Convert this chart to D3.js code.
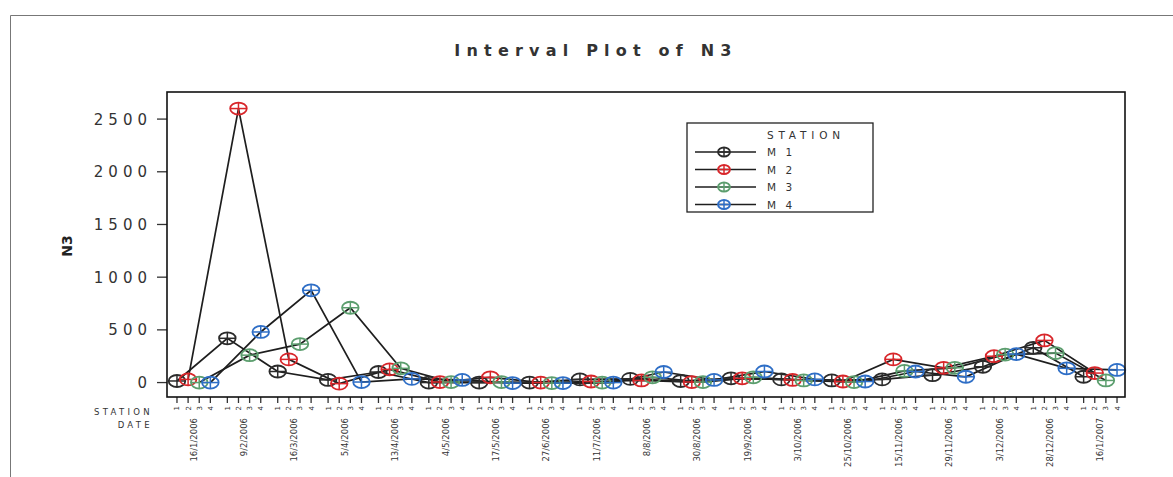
<html>
<head>
<style>
  body { margin: 0; background: #fff; }
  svg { display: block; font-family: "DejaVu Sans", Verdana, sans-serif; }
</style>
<script src="https://d3js.org/d3.v7.min.js"></script>
</head>
<body>
<svg id="chart" width="1173" height="477"></svg>
<script>
var dates = ["16/1/2006", "9/2/2006", "16/3/2006", "5/4/2006", "13/4/2006", "4/5/2006",
  "17/5/2006", "27/6/2006", "11/7/2006", "8/8/2006", "30/8/2006", "19/9/2006",
  "3/10/2006", "25/10/2006", "15/11/2006", "29/11/2006", "3/12/2006", "28/12/2006", "16/1/2007"];
var stations = ["1", "2", "3", "4"];
var legendNames = ["M 1", "M 2", "M 3", "M 4"];
var colors = ["#2b2b2b", "#d8262a", "#5c9e6e", "#2e6ec6"];

// mean N3 per date, one array per station
var m1 = [15, 420, 105, 25, 100, 0, 0, 0, 30, 35, 15, 40, 30, 20, 30, 70, 150, 330, 55];
var m2 = [30, 2600, 220, -10, 125, 5, 50, 0, 10, 20, 5, 40, 25, 10, 220, 140, 250, 400, 90];
var m3 = [0, 260, 365, 710, 135, 5, 5, -5, 0, 50, 5, 50, 20, 5, 110, 140, 265, 280, 20];
var m4 = [0, 480, 875, 5, 35, 25, -5, -5, 0, 100, 25, 105, 30, 10, 105, 55, 270, 135, 120];
var series = [m1, m2, m3, m4];
var yTicks = [0, 500, 1000, 1500, 2000, 2500];

var svg = d3.select("#chart");

var plotL = 167, plotR = 1125, plotT = 92, plotB = 397;

var x = d3.scaleBand()
  .domain(dates)
  .range([plotL, 1127])
  .paddingInner(0.337)
  .paddingOuter(0.198);

var xs = d3.scalePoint()
  .domain(stations)
  .range([0, x.bandwidth()]);

var y = d3.scaleLinear()
  .domain([-137, 2757])
  .range([plotB, plotT]);

function px(i, j) { return x(dates[i]) + xs(stations[j]); }

// outer border
svg.append("path")
  .attr("d", "M10.5,477 V15.5 H1173")
  .attr("fill", "none")
  .attr("stroke", "#777")
  .attr("stroke-width", 1);

// title
svg.append("text")
  .attr("x", 596).attr("y", 56)
  .attr("text-anchor", "middle")
  .attr("font-size", 16).attr("font-weight", "bold")
  .attr("letter-spacing", 6.2)
  .attr("fill", "#333")
  .text("Interval Plot of N3");

// y axis
var yAxis = svg.append("g");
yTicks.forEach(function (t) {
  yAxis.append("line")
    .attr("x1", plotL - 10).attr("x2", plotL)
    .attr("y1", y(t)).attr("y2", y(t))
    .attr("stroke", "#333").attr("stroke-width", 1.3);
  yAxis.append("text")
    .attr("x", 152).attr("y", y(t) + 5.5)
    .attr("text-anchor", "end")
    .attr("font-size", 15).attr("letter-spacing", 5)
    .attr("fill", "#333")
    .text(t);
});

svg.append("text")
  .attr("transform", "translate(72,246) rotate(-90)")
  .attr("text-anchor", "middle")
  .attr("font-size", 14).attr("font-weight", "bold")
  .attr("fill", "#222")
  .text("N3");

// x ticks and labels
var xAxis = svg.append("g");
dates.forEach(function (d, i) {
  stations.forEach(function (s, j) {
    var xx = px(i, j);
    xAxis.append("line")
      .attr("x1", xx).attr("x2", xx)
      .attr("y1", plotB).attr("y2", plotB + 6)
      .attr("stroke", "#333").attr("stroke-width", 1.3);
    xAxis.append("text")
      .attr("transform", "translate(" + (xx + 2.5) + "," + (plotB + 9) + ") rotate(-90)")
      .attr("text-anchor", "end")
      .attr("font-size", 7)
      .attr("fill", "#333")
      .text(s);
  });
  var cx = x(d) + x.bandwidth() / 2;
  xAxis.append("text")
    .attr("transform", "translate(" + (cx + 3) + ",418) rotate(-90)")
    .attr("text-anchor", "end")
    .attr("font-size", 8.5)
    .attr("fill", "#333")
    .text(d);
});

svg.append("text")
  .attr("x", 153).attr("y", 415)
  .attr("text-anchor", "end")
  .attr("font-size", 8.5).attr("letter-spacing", 3.3)
  .attr("fill", "#333")
  .text("STATION");
svg.append("text")
  .attr("x", 153).attr("y", 428)
  .attr("text-anchor", "end")
  .attr("font-size", 8.5).attr("letter-spacing", 3.3)
  .attr("fill", "#333")
  .text("DATE");

// connecting lines, one per station
var line = d3.line()
  .x(function (d) { return d.x; })
  .y(function (d) { return d.y; });

var g = svg.append("g");
series.forEach(function (vals, j) {
  var pts = vals.map(function (v, i) { return { x: px(i, j), y: y(v) }; });
  g.append("path")
    .attr("d", line(pts))
    .attr("fill", "none")
    .attr("stroke", "#1e1e1e")
    .attr("stroke-width", 1.7);
});

function marker(sel, cx, cy, color, rx, ry) {
  var m = sel.append("g").attr("transform", "translate(" + cx + "," + cy + ")");
  m.append("ellipse")
    .attr("rx", rx).attr("ry", ry)
    .attr("fill", "none")
    .attr("stroke", color).attr("stroke-width", 1.8);
  m.append("line")
    .attr("x1", -rx).attr("x2", rx)
    .attr("stroke", color).attr("stroke-width", 1.5);
  m.append("line")
    .attr("y1", -ry).attr("y2", ry)
    .attr("stroke", color).attr("stroke-width", 1.5);
}

series.forEach(function (vals, j) {
  vals.forEach(function (v, i) {
    marker(g, px(i, j), y(v), colors[j], 8.3, 6);
  });
});

// plot frame
svg.append("rect")
  .attr("x", plotL).attr("y", plotT)
  .attr("width", plotR - plotL).attr("height", plotB - plotT)
  .attr("fill", "none")
  .attr("stroke", "#111").attr("stroke-width", 1.6);

// legend
var lg = svg.append("g");
lg.append("rect")
  .attr("x", 687).attr("y", 123)
  .attr("width", 186).attr("height", 89)
  .attr("fill", "#fff")
  .attr("stroke", "#222").attr("stroke-width", 1.3);
lg.append("text")
  .attr("x", 767).attr("y", 139)
  .attr("font-size", 10.5).attr("letter-spacing", 4.8)
  .attr("fill", "#333")
  .text("STATION");
legendNames.forEach(function (n, j) {
  var ly = 152 + j * 17.5;
  lg.append("line")
    .attr("x1", 695).attr("x2", 756)
    .attr("y1", ly).attr("y2", ly)
    .attr("stroke", "#1e1e1e").attr("stroke-width", 1.5);
  marker(lg, 724, ly, colors[j], 6, 4.5);
  lg.append("text")
    .attr("x", 767).attr("y", ly + 4)
    .attr("font-size", 10.5).attr("letter-spacing", 3)
    .attr("fill", "#333")
    .text(n);
});
</script>
</body>
</html>
